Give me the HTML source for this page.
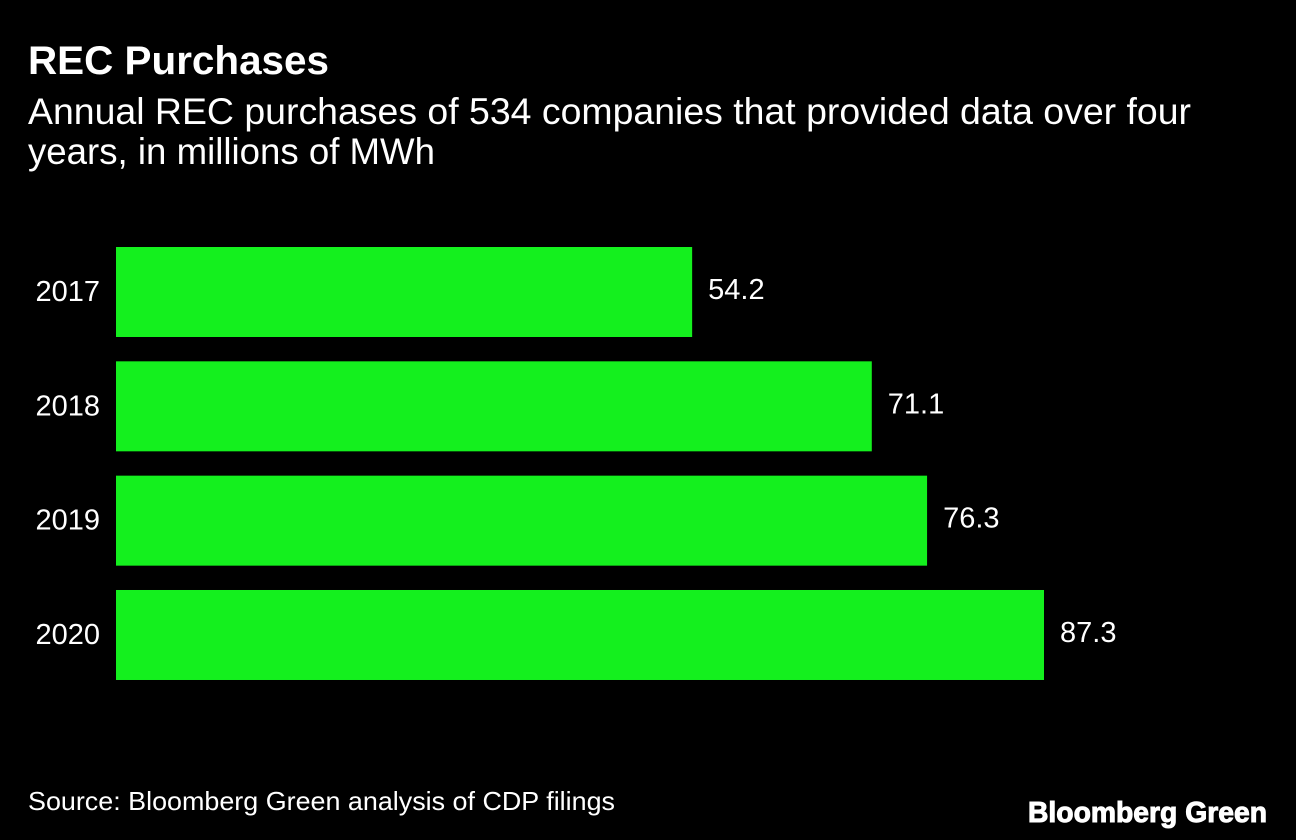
<!DOCTYPE html>
<html lang="en">
<head>
<meta charset="utf-8">
<title>REC Purchases</title>
<style>
html,body{margin:0;padding:0;background:#000;width:1296px;height:840px;overflow:hidden}
svg{display:block}
text{font-family:"Liberation Sans",Arial,sans-serif;fill:#fff}
</style>
</head>
<body>
<svg id="chart" width="1296" height="840" viewBox="0 0 1296 840" xmlns="http://www.w3.org/2000/svg">
  <rect x="0" y="0" width="1296" height="840" fill="#000"/>
  <text x="28" y="74" font-size="40" font-weight="700" textLength="301" lengthAdjust="spacingAndGlyphs">REC Purchases</text>
  <text x="28" y="124" font-size="37" textLength="1163" lengthAdjust="spacingAndGlyphs">Annual REC purchases of 534 companies that provided data over four</text>
  <text x="28" y="164" font-size="37" textLength="407" lengthAdjust="spacingAndGlyphs">years, in millions of MWh</text>
  <g id="bars"></g>
  <text x="28" y="810" font-size="26" textLength="587" lengthAdjust="spacingAndGlyphs">Source: Bloomberg Green analysis of CDP filings</text>
  <text x="1028" y="822" font-size="29" font-weight="700" stroke="#fff" stroke-width="1" textLength="239" lengthAdjust="spacingAndGlyphs">Bloomberg Green</text>
</svg>
<script>
var categories = ['2017', '2018', '2019', '2020'];
var purchases = [54.2, 71.1, 76.3, 87.3];
var valueLabels = ['54.2', '71.1', '76.3', '87.3'];

var NS = 'http://www.w3.org/2000/svg';
var group = document.getElementById('bars');

function xScale(value) {
  return 116 + value * (928 / 87.3);
}
function yScale(index) {
  return 247 + index * 114.33;
}
var barHeight = 90;

categories.forEach(function (category, i) {
  var y = yScale(i);
  var barEnd = xScale(purchases[i]);

  var label = document.createElementNS(NS, 'text');
  
  
  label.setAttribute('x', 100);
  label.setAttribute('y', y + 54);
  label.setAttribute('font-size', 29);
  label.setAttribute('text-anchor', 'end');
  label.textContent = category;
  group.appendChild(label);

  var bar = document.createElementNS(NS, 'rect');
  
  
  bar.setAttribute('x', xScale(0));
  bar.setAttribute('y', y);
  bar.setAttribute('width', barEnd - xScale(0));
  bar.setAttribute('height', barHeight);
  bar.setAttribute('fill', '#14f01e');
  group.appendChild(bar);

  var value = document.createElementNS(NS, 'text');
  
  
  value.setAttribute('x', barEnd + 16);
  value.setAttribute('y', y + 52);
  value.setAttribute('font-size', 29);
  value.textContent = valueLabels[i];
  group.appendChild(value);
});
</script>
</body>
</html>
